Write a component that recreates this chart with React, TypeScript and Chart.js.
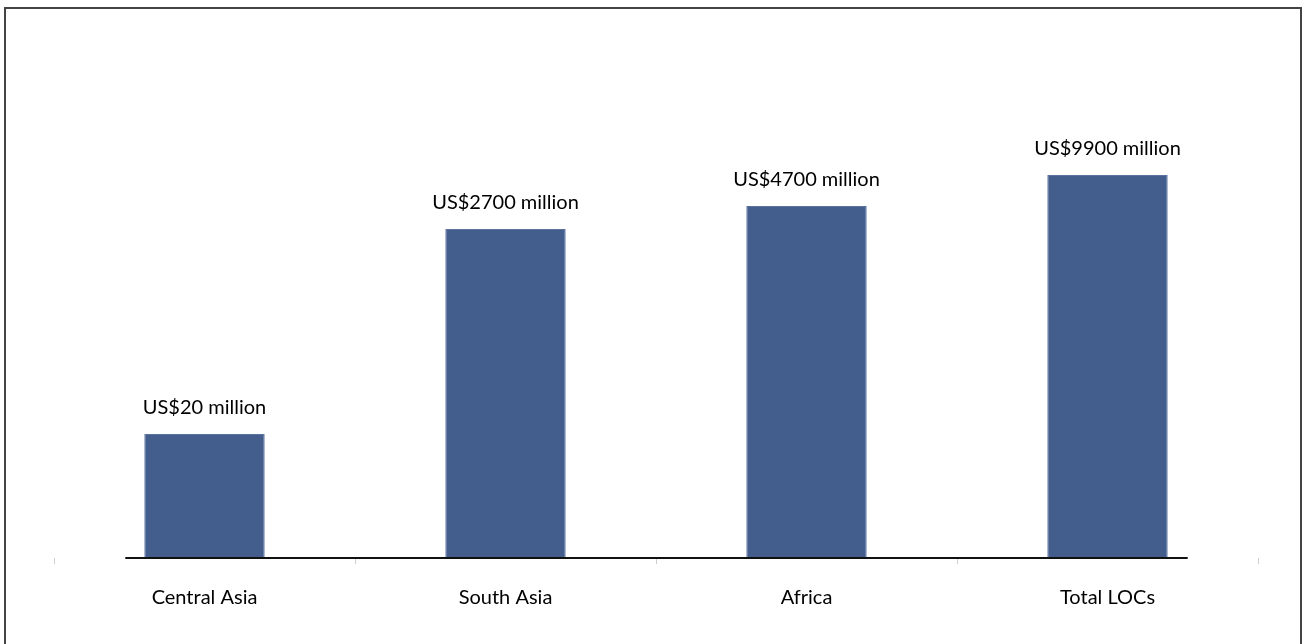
import React, { useEffect, useRef } from "react";
import { Chart, registerables } from "chart.js";

Chart.register(...registerables);

const categories = ["Central Asia", "South Asia", "Africa", "Total LOCs"];
// Visual bar heights as drawn in the reference (not proportional to labels)
const barHeights = [124, 329, 352, 383];
const valueLabels = ["US$20 million", "US$2700 million", "US$4700 million", "US$9900 million"];

const FONT = "Lato, 'Open Sans', sans-serif";

const labelPlugin = {
  id: "valueLabels",
  afterDatasetsDraw(chart: any) {
    const ctx = chart.ctx;
    const meta = chart.getDatasetMeta(0);
    ctx.save();
    // baseline
    const first = meta.data[0];
    const last = meta.data[meta.data.length - 1];
    const yBase = chart.scales.y.getPixelForValue(0);
    ctx.strokeStyle = "#111";
    ctx.lineWidth = 2;
    ctx.beginPath();
    ctx.moveTo(first.x - first.width / 2 - 19, yBase);
    ctx.lineTo(last.x + last.width / 2 + 20, yBase);
    ctx.stroke();
    // labels
    ctx.fillStyle = "#000";
    ctx.font = "20px " + FONT;
    ctx.textAlign = "center";
    ctx.textBaseline = "middle";
    meta.data.forEach((bar: any, i: number) => {
      ctx.fillText(valueLabels[i], bar.x, bar.y - 26);
    });
    ctx.restore();
  },
};

export default function App() {
  const ref = useRef<HTMLCanvasElement>(null);
  useEffect(() => {
    if (!ref.current) return;
    const chart = new Chart(ref.current, {
      type: "bar",
      data: {
        labels: categories,
        datasets: [
          {
            data: barHeights,
            backgroundColor: "#435d8d",
            borderColor: "#5a729d",
            borderWidth: 1,
            barPercentage: 0.4,
            categoryPercentage: 1,
          },
        ],
      },
      options: {
        animation: false,
        responsive: false,
        maintainAspectRatio: false,
        layout: { padding: { left: 54, right: 49, top: 98, bottom: 12 } },
        plugins: { legend: { display: false }, tooltip: { enabled: false } },
        scales: {
          y: { display: false, min: 0, max: 460 },
          x: {
            offset: true,
            border: { display: false },
            grid: {
              offset: true,
              drawOnChartArea: false,
              drawTicks: true,
              tickLength: 6,
              color: "#d0d0d0",
            },
            ticks: {
              padding: 22,
              color: "#000",
              font: { size: 20, family: FONT },
              maxRotation: 0,
            },
          },
        },
      },
      plugins: [labelPlugin],
    });
    return () => chart.destroy();
  }, []);
  return (
    <div style={{ position: "fixed", left: 0, top: 0, width: 1307, height: 644, background: "#fff" }}>
      <div
        style={{
          position: "absolute",
          left: 4,
          top: 7,
          width: 1298,
          height: 640,
          border: "2px solid #444",
          boxSizing: "border-box",
        }}
      />
      <canvas ref={ref} width={1307} height={644} style={{ position: "absolute", left: 0, top: 0 }} />
    </div>
  );
}
